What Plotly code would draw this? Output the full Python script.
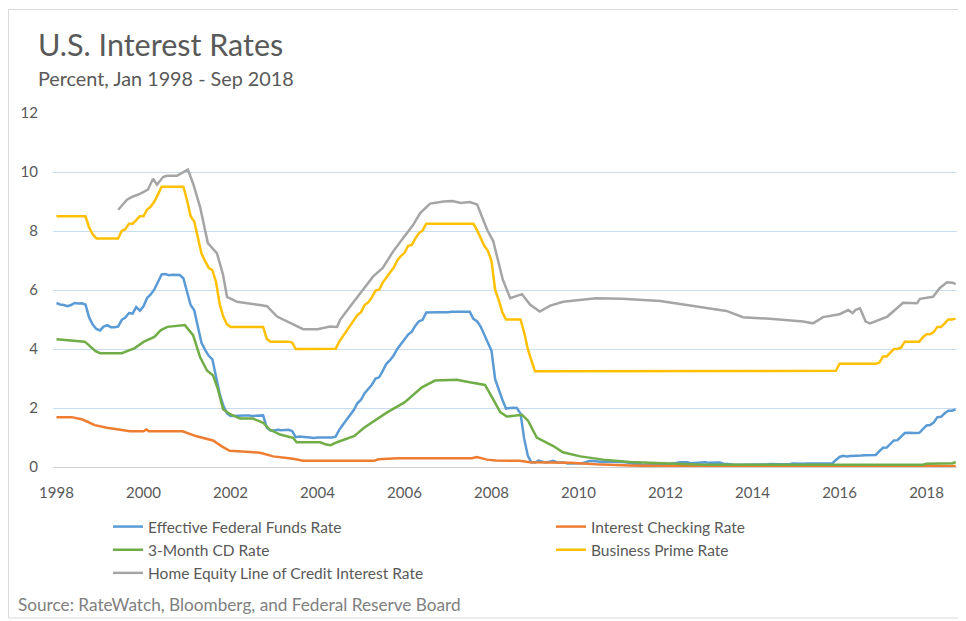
import plotly.graph_objects as go

# ---------------- data ----------------
# Monthly series, Jan 1998 - Sep 2018
effr = [
    5.56, 5.51, 5.49, 5.45, 5.49, 5.56, 5.54, 5.55, 5.51, 5.07, 4.83, 4.68,  # 1998
    4.63, 4.76, 4.81, 4.74, 4.74, 4.76, 4.99, 5.07, 5.22, 5.20, 5.42, 5.30,  # 1999
    5.45, 5.73, 5.85, 6.02, 6.27, 6.53, 6.54, 6.50, 6.52, 6.51, 6.51, 6.40,  # 2000
    5.98, 5.49, 5.31, 4.80, 4.21, 3.97, 3.77, 3.65, 3.07, 2.49, 2.09, 1.82,  # 2001
    1.73, 1.74, 1.73, 1.75, 1.75, 1.75, 1.73, 1.74, 1.75, 1.75, 1.34, 1.24,  # 2002
    1.24, 1.26, 1.25, 1.26, 1.26, 1.22, 1.01, 1.03, 1.01, 1.01, 1.00, 0.98,  # 2003
    1.00, 1.01, 1.00, 1.00, 1.00, 1.03, 1.26, 1.43, 1.61, 1.76, 1.93, 2.16,  # 2004
    2.28, 2.50, 2.63, 2.79, 3.00, 3.04, 3.26, 3.50, 3.62, 3.78, 4.00, 4.16,  # 2005
    4.29, 4.49, 4.59, 4.79, 4.94, 4.99, 5.24, 5.25, 5.25, 5.25, 5.25, 5.24,  # 2006
    5.25, 5.26, 5.26, 5.25, 5.25, 5.25, 5.26, 5.02, 4.94, 4.76, 4.49, 4.24,  # 2007
    3.94, 2.98, 2.61, 2.28, 1.98, 2.00, 2.01, 2.00, 1.81, 0.97, 0.39, 0.16,  # 2008
    0.15, 0.22, 0.18, 0.15, 0.18, 0.21, 0.16, 0.16, 0.15, 0.12, 0.12, 0.12,  # 2009
    0.11, 0.13, 0.16, 0.20, 0.20, 0.18, 0.18, 0.19, 0.19, 0.19, 0.19, 0.18,  # 2010
    0.17, 0.16, 0.14, 0.10, 0.09, 0.09, 0.07, 0.10, 0.08, 0.07, 0.08, 0.07,  # 2011
    0.08, 0.10, 0.13, 0.14, 0.16, 0.16, 0.16, 0.13, 0.14, 0.16, 0.16, 0.16,  # 2012
    0.14, 0.15, 0.14, 0.15, 0.11, 0.09, 0.09, 0.08, 0.08, 0.09, 0.08, 0.09,  # 2013
    0.07, 0.07, 0.08, 0.09, 0.09, 0.10, 0.09, 0.09, 0.09, 0.09, 0.09, 0.12,  # 2014
    0.11, 0.11, 0.11, 0.12, 0.12, 0.13, 0.13, 0.14, 0.14, 0.12, 0.12, 0.24,  # 2015
    0.34, 0.38, 0.36, 0.37, 0.37, 0.38, 0.39, 0.40, 0.40, 0.40, 0.41, 0.54,  # 2016
    0.65, 0.66, 0.79, 0.90, 0.91, 1.04, 1.15, 1.16, 1.15, 1.15, 1.16, 1.30,  # 2017
    1.41, 1.42, 1.51, 1.69, 1.70, 1.82, 1.91, 1.91, 1.95,                    # 2018
]

prime = [
    8.50, 8.50, 8.50, 8.50, 8.50, 8.50, 8.50, 8.50, 8.50, 8.12, 7.89, 7.75,  # 1998
    7.75, 7.75, 7.75, 7.75, 7.75, 7.75, 8.00, 8.06, 8.25, 8.25, 8.37, 8.50,  # 1999
    8.50, 8.73, 8.83, 9.00, 9.24, 9.50, 9.50, 9.50, 9.50, 9.50, 9.50, 9.50,  # 2000
    9.05, 8.50, 8.32, 7.80, 7.24, 6.98, 6.75, 6.67, 6.28, 5.53, 5.10, 4.84,  # 2001
    4.75, 4.75, 4.75, 4.75, 4.75, 4.75, 4.75, 4.75, 4.75, 4.75, 4.35, 4.25,  # 2002
    4.25, 4.25, 4.25, 4.25, 4.25, 4.22, 4.00, 4.00, 4.00, 4.00, 4.00, 4.00,  # 2003
    4.00, 4.00, 4.00, 4.00, 4.00, 4.01, 4.25, 4.43, 4.58, 4.75, 4.93, 5.15,  # 2004
    5.25, 5.49, 5.58, 5.75, 5.98, 6.01, 6.25, 6.44, 6.59, 6.75, 7.00, 7.15,  # 2005
    7.26, 7.50, 7.53, 7.75, 7.93, 8.02, 8.25, 8.25, 8.25, 8.25, 8.25, 8.25,  # 2006
    8.25, 8.25, 8.25, 8.25, 8.25, 8.25, 8.25, 8.25, 8.03, 7.74, 7.50, 7.33,  # 2007
    6.98, 6.00, 5.66, 5.24, 5.00, 5.00, 5.00, 5.00, 5.00, 4.56, 4.00, 3.61,  # 2008
    3.25, 3.25, 3.25, 3.25, 3.25, 3.25, 3.25, 3.25, 3.25, 3.25, 3.25, 3.25,  # 2009
    3.25, 3.25, 3.25, 3.25, 3.25, 3.25, 3.25, 3.25, 3.25, 3.25, 3.25, 3.25,  # 2010
    3.25, 3.25, 3.25, 3.25, 3.25, 3.25, 3.25, 3.25, 3.25, 3.25, 3.25, 3.25,  # 2011
    3.25, 3.25, 3.25, 3.25, 3.25, 3.25, 3.25, 3.25, 3.25, 3.25, 3.25, 3.25,  # 2012
    3.25, 3.25, 3.25, 3.25, 3.25, 3.25, 3.25, 3.25, 3.25, 3.25, 3.25, 3.25,  # 2013
    3.25, 3.25, 3.25, 3.25, 3.25, 3.25, 3.25, 3.25, 3.25, 3.25, 3.25, 3.25,  # 2014
    3.25, 3.25, 3.25, 3.25, 3.25, 3.25, 3.25, 3.25, 3.25, 3.25, 3.25, 3.26,  # 2015
    3.50, 3.50, 3.50, 3.50, 3.50, 3.50, 3.50, 3.50, 3.50, 3.50, 3.50, 3.54,  # 2016
    3.75, 3.75, 3.88, 4.00, 4.00, 4.05, 4.25, 4.25, 4.25, 4.25, 4.25, 4.40,  # 2017
    4.50, 4.50, 4.58, 4.75, 4.75, 4.87, 5.00, 5.00, 5.03,                    # 2018
]

# Series read at irregular times (decimal year, percent)
checking_t = [1998.0, 1998.35, 1998.6, 1998.88, 1999.16, 1999.39, 1999.69, 2000.0, 2000.07,
              2000.12, 2000.9, 2001.22, 2001.6, 2001.8, 2001.98, 2002.45, 2002.68, 2002.98,
              2003.44, 2003.67, 2005.3, 2005.4, 2005.85, 2007.55, 2007.66, 2007.9, 2008.1,
              2008.65, 2008.88, 2009.8, 2010.4, 2011.2, 2012.0, 2018.67]
checking_v = [1.69, 1.69, 1.61, 1.42, 1.33, 1.27, 1.21, 1.21, 1.27,
              1.21, 1.21, 1.04, 0.90, 0.70, 0.55, 0.51, 0.48, 0.36,
              0.28, 0.21, 0.21, 0.26, 0.30, 0.30, 0.34, 0.25, 0.22,
              0.21, 0.16, 0.14, 0.09, 0.05, 0.03, 0.03]

cd_t = [1998.0, 1998.5, 1998.65, 1998.9, 1999.0, 1999.5, 1999.8, 2000.0, 2000.25, 2000.4,
        2000.55, 2000.95, 2001.14, 2001.3, 2001.46, 2001.6, 2001.71, 2001.83, 2001.99, 2002.22,
        2002.52, 2002.75, 2002.9, 2003.14, 2003.44, 2003.52, 2004.06, 2004.2, 2004.3, 2004.45,
        2004.85, 2005.07, 2005.6, 2006.0, 2006.4, 2006.7, 2007.2, 2007.5, 2007.85, 2008.03,
        2008.2, 2008.35, 2008.7, 2008.84, 2009.04, 2009.42, 2009.64, 2010.04, 2010.57, 2011.18,
        2011.8, 2012.87, 2017.92, 2018.0, 2018.6, 2018.67]
cd_v = [4.33, 4.27, 4.25, 3.93, 3.86, 3.86, 4.03, 4.24, 4.41, 4.64,
        4.75, 4.81, 4.47, 3.73, 3.27, 3.10, 2.64, 1.96, 1.79, 1.64,
        1.64, 1.50, 1.27, 1.10, 0.99, 0.84, 0.84, 0.76, 0.74, 0.84,
        1.05, 1.33, 1.85, 2.19, 2.70, 2.93, 2.96, 2.87, 2.78, 2.32,
        1.86, 1.71, 1.77, 1.57, 1.00, 0.71, 0.50, 0.36, 0.25, 0.17,
        0.14, 0.08, 0.08, 0.11, 0.13, 0.17]

heloc_t = [1999.42, 1999.62, 1999.76, 1999.92, 2000.10, 2000.22, 2000.31, 2000.45, 2000.54,
           2000.77, 2001.02, 2001.14, 2001.30, 2001.48, 2001.69, 2001.83, 2001.92, 2002.15,
           2002.68, 2002.84, 2003.07, 2003.44, 2003.67, 2004.00, 2004.29, 2004.45, 2004.52,
           2004.75, 2005.05, 2005.28, 2005.50, 2005.74, 2005.97, 2006.20, 2006.36, 2006.59,
           2006.90, 2007.10, 2007.30, 2007.50, 2007.67, 2007.90, 2008.04, 2008.13, 2008.26,
           2008.43, 2008.70, 2008.89, 2009.11, 2009.35, 2009.65, 2010.40, 2011.00, 2011.88,
           2012.65, 2013.40, 2013.78, 2014.47, 2015.16, 2015.39, 2015.62, 2016.00, 2016.20,
           2016.30, 2016.37, 2016.47, 2016.60, 2016.70, 2017.10, 2017.46, 2017.78, 2017.85,
           2018.15, 2018.30, 2018.47, 2018.60, 2018.67]
heloc_v = [8.72, 9.06, 9.17, 9.26, 9.40, 9.77, 9.57, 9.83, 9.87,
           9.87, 10.08, 9.61, 8.82, 7.59, 7.24, 6.51, 5.77, 5.60,
           5.49, 5.45, 5.10, 4.85, 4.67, 4.67, 4.76, 4.75, 4.99,
           5.44, 6.01, 6.46, 6.75, 7.31, 7.76, 8.21, 8.61, 8.93,
           9.00, 9.02, 8.95, 8.98, 8.90, 8.04, 7.65, 7.14, 6.35,
           5.72, 5.86, 5.50, 5.27, 5.47, 5.60, 5.72, 5.70, 5.63,
           5.47, 5.29, 5.08, 5.02, 4.93, 4.87, 5.08, 5.18, 5.32,
           5.22, 5.33, 5.38, 4.93, 4.87, 5.10, 5.57, 5.55, 5.70,
           5.77, 6.06, 6.26, 6.25, 6.20]

series_names = ["Effective Federal Funds Rate", "Interest Checking Rate", "3-Month CD Rate",
                "Business Prime Rate", "Home Equity Line of Credit Interest Rate"]
colors = ["#5B9BD5", "#ED7D31", "#70AD47", "#FFC000", "#A5A5A5"]

tick_years = [1998, 2000, 2002, 2004, 2006, 2008, 2010, 2012, 2014, 2016, 2018]
y_ticks = [0, 2, 4, 6, 8, 10, 12]

# ---------------- figure ----------------
months = [1998 + i / 12 for i in range(len(effr))]

FONT = "Lato, 'Noto Sans', sans-serif"
TXT = "#595959"

fig = go.Figure()
xs = [months, checking_t, cd_t, months, heloc_t]
ys = [effr, checking_v, cd_v, prime, heloc_v]
legends = ["legend", "legend2", "legend", "legend2", "legend"]
for name, c, x, y, lg in zip(series_names, colors, xs, ys, legends):
    fig.add_trace(go.Scatter(x=x, y=y, mode="lines", name=name,
                             line=dict(color=c, width=2.5), legend=lg))

# page is offset by the default 8px body margin
OFF = 8
W, H = 958, 613
ML, MR, MT, MB = 45, 9, 105, 154
PW, PH = W - ML - MR, H - MT - MB


def px_x(p):  # page pixel -> paper x
    return (p - OFF - ML) / PW


def px_y(p):  # page pixel -> paper y
    return (H - MB - (p - OFF)) / PH


fig.update_layout(
    width=W, height=H,
    margin=dict(l=ML, r=MR, t=MT, b=MB, pad=0, autoexpand=False),
    paper_bgcolor="white", plot_bgcolor="white",
    font=dict(family=FONT, color=TXT, size=15),
    showlegend=True,
    xaxis=dict(range=[1997.92, 2018.70], tickvals=tick_years,
               ticktext=[str(v) for v in tick_years],
               showgrid=False, zeroline=False, showline=True,
               linecolor="#cfcfcf", linewidth=1, ticks="",
               tickfont=dict(size=15, color=TXT, family=FONT),
               ticklabelstandoff=12, automargin=False),
    yaxis=dict(range=[0, 12], tickvals=y_ticks, showgrid=True,
               gridcolor="#cadcef", gridwidth=1, zeroline=False,
               showline=False, ticks="",
               tickfont=dict(size=15, color=TXT, family=FONT),
               ticklabelstandoff=14, automargin=False),
    legend=dict(xref="container", yref="container", x=(108 - OFF) / W, y=1 - (510 - OFF) / H,
                xanchor="left", yanchor="top", orientation="v",
                bgcolor="rgba(0,0,0,0)", font=dict(size=15.5, color=TXT, family=FONT),
                tracegroupgap=0),
    legend2=dict(xref="container", yref="container", x=(551 - OFF) / W, y=1 - (510 - OFF) / H,
                 xanchor="left", yanchor="top", orientation="v",
                 bgcolor="rgba(0,0,0,0)", font=dict(size=15.5, color=TXT, family=FONT),
                 tracegroupgap=0),
    annotations=[
        dict(text="U.S. Interest Rates", xref="paper", yref="paper",
             x=px_x(36), y=px_y(44), xanchor="left", yanchor="middle",
             showarrow=False, font=dict(size=30.5, color=TXT, family=FONT)),
        dict(text="Percent, Jan 1998 - Sep 2018", xref="paper", yref="paper",
             x=px_x(36), y=px_y(78), xanchor="left", yanchor="middle",
             showarrow=False, font=dict(size=19.8, color=TXT, family=FONT)),
        dict(text="Source: RateWatch, Bloomberg, and Federal Reserve Board", xref="paper",
             yref="paper", x=px_x(16), y=px_y(604), xanchor="left", yanchor="middle",
             showarrow=False, font=dict(size=17.2, color="#808080", family=FONT)),
    ],
    shapes=[dict(type="rect", xref="paper", yref="paper",
                 x0=px_x(8.5), x1=px_x(965), y0=px_y(618), y1=px_y(9.5),
                 line=dict(color="#d9d9d9", width=1), fillcolor="rgba(0,0,0,0)",
                 layer="below")],
)

fig.write_html("out.html")
